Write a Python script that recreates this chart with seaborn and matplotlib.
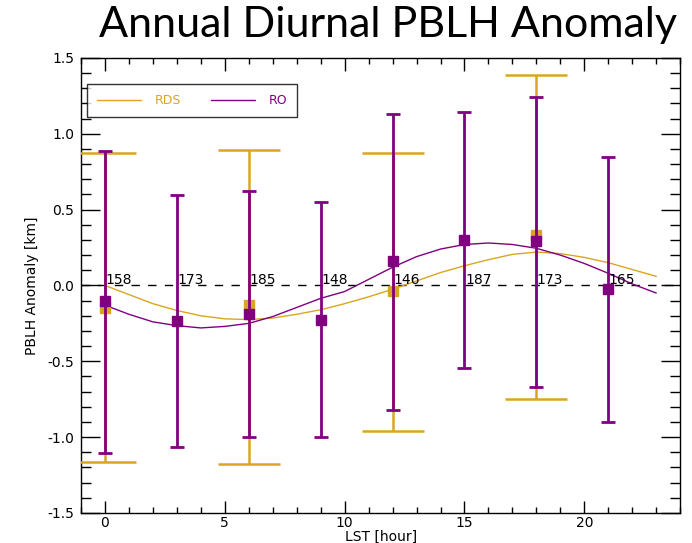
import numpy as np
import pandas as pd
import matplotlib
matplotlib.use("Agg")
import matplotlib.pyplot as plt
import seaborn as sns
from matplotlib.lines import Line2D
from matplotlib.ticker import MultipleLocator

sns.set_style("ticks")
plt.rcParams["font.family"] = ["DejaVu Sans"]
plt.rcParams["text.color"] = "black"
plt.rcParams["axes.labelcolor"] = "black"
plt.rcParams["xtick.color"] = "black"
plt.rcParams["ytick.color"] = "black"

GOLD = "#DAA520"
PURPLE = "#800080"

# Fitted diurnal cycles (hourly)
hours = list(range(24))
rds_fit = [0.00, -0.06, -0.12, -0.165, -0.20, -0.22, -0.225, -0.215, -0.19, -0.16,
           -0.12, -0.075, -0.025, 0.03, 0.085, 0.13, 0.17, 0.205, 0.22, 0.21,
           0.185, 0.15, 0.105, 0.06]
ro_fit = [-0.13, -0.19, -0.24, -0.265, -0.28, -0.27, -0.25, -0.205, -0.145, -0.085,
          -0.04, 0.04, 0.12, 0.19, 0.24, 0.27, 0.28, 0.27, 0.245, 0.20,
          0.145, 0.08, 0.01, -0.05]

# RDS binned anomalies (every 6 h)
rds_hour = [0, 6, 12, 18]
rds_mean = [-0.15, -0.13, -0.035, 0.33]
rds_upper = [0.87, 0.895, 0.875, 1.385]
rds_lower = [-1.165, -1.18, -0.96, -0.75]

# RO binned anomalies (every 3 h) and sample counts
ro_hour = [0, 3, 6, 9, 12, 15, 18, 21]
ro_mean = [-0.10, -0.235, -0.19, -0.225, 0.16, 0.30, 0.295, -0.025]
ro_upper = [0.885, 0.595, 0.62, 0.55, 1.13, 1.145, 1.245, 0.845]
ro_lower = [-1.105, -1.065, -1.0, -1.0, -0.82, -0.545, -0.67, -0.90]
ro_count = ["158", "173", "185", "148", "146", "187", "173", "165"]

fig = plt.figure(figsize=(6.92, 5.43), dpi=100)
ax = fig.add_axes([0.117, 0.0553, 0.866, 0.838])

fits = pd.DataFrame({"hour": hours * 2,
                     "anom": rds_fit + ro_fit,
                     "src": ["RDS"] * 24 + ["RO"] * 24})
sns.lineplot(data=fits, x="hour", y="anom", hue="src",
             palette={"RDS": GOLD, "RO": PURPLE}, linewidth=1.0,
             legend=False, ax=ax, zorder=3)

ax.axhline(0, color="black", lw=1.0, ls=(0, (6, 6)), zorder=2)

rm = np.array(rds_mean)
ax.errorbar(rds_hour, rds_mean,
            yerr=[rm - np.array(rds_lower), np.array(rds_upper) - rm],
            fmt="s", color=GOLD, ms=7.5, elinewidth=1.8, capsize=22,
            capthick=1.8, zorder=4)
om = np.array(ro_mean)
ax.errorbar(ro_hour, ro_mean,
            yerr=[om - np.array(ro_lower), np.array(ro_upper) - om],
            fmt="s", color=PURPLE, ms=7.5, elinewidth=2.0, capsize=4.7,
            capthick=2.0, zorder=5)

for h, c in zip(ro_hour, ro_count):
    ax.text(h + 0.02, -0.008, c, ha="left", va="bottom", fontsize=10,
            color="black", zorder=6)

ax.set_xlim(-1, 24)
ax.set_ylim(-1.5, 1.5)
ax.xaxis.set_major_locator(MultipleLocator(5))
ax.xaxis.set_minor_locator(MultipleLocator(1))
ax.yaxis.set_major_locator(MultipleLocator(0.5))
ax.yaxis.set_minor_locator(MultipleLocator(0.1))
ax.set_yticks([-1.5, -1.0, -0.5, 0.0, 0.5, 1.0, 1.5])
ax.set_yticklabels(["-1.5", "-1.0", "-0.5", "0.0", "0.5", "1.0", "1.5"])
ax.set_xticks([0, 5, 10, 15, 20])
ax.tick_params(axis="x", which="major", direction="in", length=9, width=1,
               top=True, bottom=True, labelsize=10, pad=2)
ax.tick_params(axis="x", which="minor", direction="in", length=4.5, width=1,
               top=True, bottom=True)
ax.tick_params(axis="y", which="major", direction="in", length=14, width=1,
               left=True, right=True, labelsize=10, pad=5)
ax.tick_params(axis="y", which="minor", direction="in", length=7, width=1,
               left=True, right=True)
for s in ax.spines.values():
    s.set_visible(True)
    s.set_linewidth(1.0)
    s.set_color("black")

ax.set_xlabel("LST [hour]", fontsize=10, labelpad=0)
ax.set_ylabel("PBLH Anomaly [km]", fontsize=10, labelpad=6)

handles = [Line2D([], [], color=GOLD, lw=1.0), Line2D([], [], color=PURPLE, lw=1.0)]
leg = ax.legend(handles, ["RDS", "RO"], ncol=2, loc="upper left",
                bbox_to_anchor=(0.01, 0.942), fontsize=9, frameon=True,
                fancybox=False, handlelength=3.5, columnspacing=2.4,
                handletextpad=1.1, borderpad=0.8, labelcolor="linecolor",
                borderaxespad=0)
leg.get_frame().set_edgecolor("black")
leg.get_frame().set_linewidth(1.0)
leg.set_zorder(10)

fig.text(0.978, 1 - 37 / 543, "Annual Diurnal PBLH Anomaly", ha="right",
         va="baseline", fontsize=31, color="black",
         family=["Lato", "DejaVu Sans"])

fig.savefig("out.png", dpi=100)
